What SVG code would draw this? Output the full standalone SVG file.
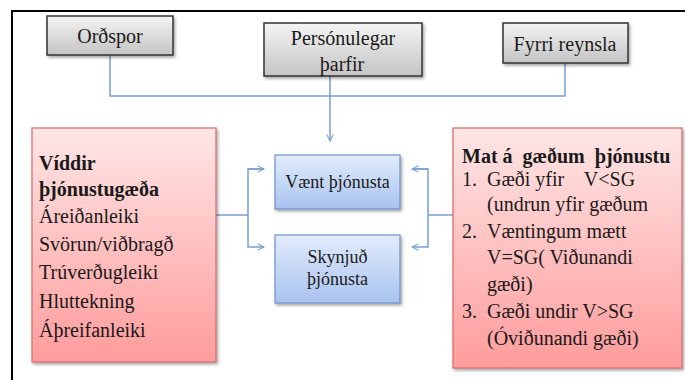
<svg xmlns="http://www.w3.org/2000/svg" width="685" height="380" viewBox="0 0 685 380">
<defs>
<linearGradient id="gGray" x1="0" y1="0" x2="0" y2="1"><stop offset="0" stop-color="#f4f4f4"/><stop offset="1" stop-color="#c4c4c4"/></linearGradient>
<linearGradient id="gBlue" x1="0" y1="0" x2="0" y2="1"><stop offset="0" stop-color="#e2ecfb"/><stop offset="1" stop-color="#a8c3ef"/></linearGradient>
<linearGradient id="gRed" x1="0" y1="0" x2="0" y2="1"><stop offset="0" stop-color="#ffe6e6"/><stop offset="1" stop-color="#ff9c9c"/></linearGradient>
<filter id="sh" x="-10%" y="-10%" width="130%" height="130%"><feDropShadow dx="1.5" dy="2" stdDeviation="1.5" flood-color="#000" flood-opacity="0.35"/></filter>
<marker id="ah" viewBox="0 0 10 10" refX="9" refY="5" markerWidth="8" markerHeight="8" markerUnits="userSpaceOnUse" orient="auto"><path d="M1,1 L9,5 L1,9" fill="none" stroke="#7b9fd3" stroke-width="1.3"/></marker>
</defs>
<style>
.gray{fill:url(#gGray);stroke:#333;stroke-width:1.5;filter:url(#sh)}
.blue{fill:url(#gBlue);stroke:#6f90c8;stroke-width:1.2;filter:url(#sh)}
.red{fill:url(#gRed);stroke:#d46a6a;stroke-width:1.2;filter:url(#sh)}
text{font-family:"Liberation Serif","Times New Roman",serif;fill:#1a1a1a}
.t20{font-size:20px}
.t18{font-size:18px}
.b{font-weight:bold}
.c{text-anchor:middle}
.conn{fill:none;stroke:#7b9fd3;stroke-width:1.5}
</style>
<path d="M12,380 V11 H685" fill="none" stroke="#000" stroke-width="2"/>
<g id="connectors">
<path class="conn" d="M110,55 V96 H565 V63"/>
<path class="conn" d="M330,76 V141" marker-end="url(#ah)"/>
<path class="conn" d="M216,215 H248"/>
<path class="conn" d="M264,169 H248 V247 H264" marker-end="url(#ah)"/>
<path class="conn" d="M248,169 H264" marker-end="url(#ah)"/>
<path class="conn" d="M453,215 H428"/>
<path class="conn" d="M412,169 H428 V247 H412" marker-end="url(#ah)"/>
<path class="conn" d="M428,169 H412" marker-end="url(#ah)"/>
</g>
<g id="ordspor"><rect class="gray" x="47" y="16" width="126" height="39"/><text class="t20 c" x="110" y="43">Orðspor</text></g>
<g id="personulegar"><rect class="gray" x="264" y="23" width="158" height="53"/><text class="t20 c" x="343" y="45">Persónulegar</text><text class="t20 c" x="342" y="71">þarfir</text></g>
<g id="fyrri"><rect class="gray" x="503" y="23" width="125" height="40"/><text class="t20 c" x="565" y="51">Fyrri reynsla</text></g>
<g id="vaent"><rect class="blue" x="275" y="155" width="125" height="54"/><text class="t18 c" x="337.5" y="188">Vænt þjónusta</text></g>
<g id="skynjud"><rect class="blue" x="275" y="235" width="125" height="68"/><text class="t18 c" x="337.5" y="263">Skynjuð</text><text class="t18 c" x="337.5" y="285">þjónusta</text></g>
<g id="viddir"><rect class="red" x="32" y="128" width="184" height="234"/>
<text class="t20 b" x="39" y="170">Víddir</text>
<text class="t20 b" x="39" y="196">þjónustugæða</text>
<text class="t20" x="39" y="223">Áreiðanleiki</text>
<text class="t20" x="39" y="251">Svörun/viðbragð</text>
<text class="t20" x="39" y="279">Trúverðugleiki</text>
<text class="t20" x="39" y="308">Hluttekning</text>
<text class="t20" x="39" y="337">Áþreifanleiki</text>
</g>
<g id="mat"><rect class="red" x="453" y="128" width="229" height="240"/>
<text class="t20 b" x="462" y="163" xml:space="preserve">Mat á  gæðum  þjónustu</text>
<text class="t20" x="462" y="186">1.</text><text class="t20" x="487" y="186" xml:space="preserve">Gæði yfir    V&lt;SG</text>
<text class="t20" x="487" y="211">(undrun yfir gæðum</text>
<text class="t20" x="462" y="238">2.</text><text class="t20" x="487" y="238">Væntingum mætt</text>
<text class="t20" x="487" y="264">V=SG( Viðunandi</text>
<text class="t20" x="487" y="291">gæði)</text>
<text class="t20" x="462" y="318">3.</text><text class="t20" x="487" y="318">Gæði undir V&gt;SG</text>
<text class="t20" x="487" y="345">(Óviðunandi gæði)</text>
</g>
</svg>
